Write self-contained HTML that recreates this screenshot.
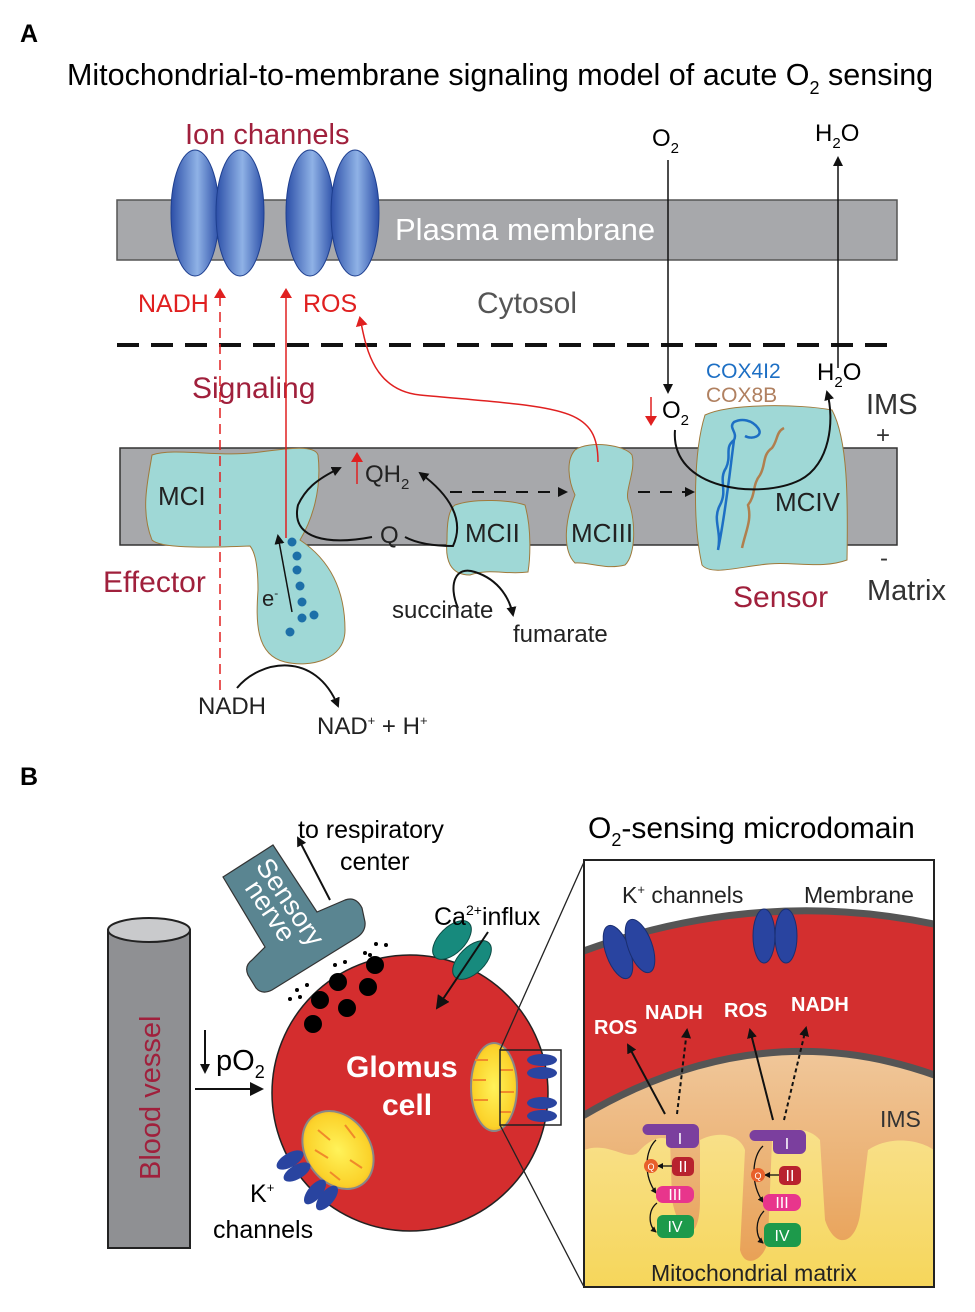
<!DOCTYPE html>
<html><head><meta charset="utf-8"><style>
html,body{margin:0;padding:0;background:#fff}
svg{display:block}
text{font-family:"Liberation Sans",Arial,sans-serif}
</style></head><body>
<svg width="975" height="1312" viewBox="0 0 975 1312" xmlns="http://www.w3.org/2000/svg">
<defs>
<linearGradient id="ch" x1="0" x2="1" y1="0" y2="0">
<stop offset="0" stop-color="#2c4fa8"/><stop offset="0.55" stop-color="#8fb2e6"/><stop offset="1" stop-color="#2c4fa8"/></linearGradient>
<radialGradient id="mito" cx="0.5" cy="0.5" r="0.6"><stop offset="0" stop-color="#fff35a"/><stop offset="0.75" stop-color="#fbd22a"/><stop offset="1" stop-color="#f59a23"/></radialGradient>
<linearGradient id="ims" x1="0" x2="0" y1="0" y2="1"><stop offset="0" stop-color="#f0c79a"/><stop offset="1" stop-color="#e79a4a"/></linearGradient>
<linearGradient id="mat" x1="0" x2="0" y1="0" y2="1"><stop offset="0" stop-color="#f8e08a"/><stop offset="1" stop-color="#f6d65a"/></linearGradient>
<marker id="ab" markerWidth="10" markerHeight="10" refX="8" refY="5" orient="auto" markerUnits="userSpaceOnUse"><path d="M0,0 L10,5 L0,10 z" fill="#111"/></marker>
<marker id="ar" markerWidth="10" markerHeight="12" refX="8" refY="6" orient="auto" markerUnits="userSpaceOnUse"><path d="M0,0 L10,6 L0,12 z" fill="#e02020"/></marker>
<marker id="abl" markerWidth="14" markerHeight="14" refX="12" refY="7" orient="auto" markerUnits="userSpaceOnUse"><path d="M0,0 L14,7 L0,14 z" fill="#111"/></marker>
<marker id="as" markerWidth="6" markerHeight="6" refX="5" refY="3" orient="auto" markerUnits="userSpaceOnUse"><path d="M0,0 L6,3 L0,6 z" fill="#111"/></marker>
</defs>

<!-- Panel A -->
<text x="20" y="42" font-size="25" font-weight="bold">A</text>
<text x="67" y="85" font-size="30.5">Mitochondrial-to-membrane signaling model of acute O<tspan font-size="18" dy="9">2</tspan><tspan dy="-9"> sensing</tspan></text>

<rect x="117" y="200" width="780" height="60" fill="#a7a8ab" stroke="#555" stroke-width="1.5"/>
<g stroke="#1e3f8f" stroke-width="1">
<ellipse cx="195" cy="213" rx="24" ry="63" fill="url(#ch)"/>
<ellipse cx="240" cy="213" rx="24" ry="63" fill="url(#ch)"/>
<ellipse cx="310" cy="213" rx="24" ry="63" fill="url(#ch)"/>
<ellipse cx="355" cy="213" rx="24" ry="63" fill="url(#ch)"/>
</g>
<text x="185" y="144" font-size="29" fill="#a0203c">Ion channels</text>
<text x="395" y="240" font-size="31" fill="#fff">Plasma membrane</text>
<text x="138" y="312" font-size="25" fill="#e02020">NADH</text>
<text x="303" y="312" font-size="25" fill="#e02020">ROS</text>
<text x="477" y="313" font-size="30" fill="#555">Cytosol</text>
<line x1="117" y1="345" x2="897" y2="345" stroke="#111" stroke-width="4" stroke-dasharray="22,12"/>

<text x="652" y="146" font-size="24">O<tspan font-size="15" dy="7">2</tspan></text>
<line x1="668" y1="160" x2="668" y2="392" stroke="#111" stroke-width="1.5" marker-end="url(#ab)"/>
<text x="815" y="141" font-size="24">H<tspan font-size="15" dy="7">2</tspan><tspan dy="-7">O</tspan></text>
<line x1="838" y1="368" x2="838" y2="158" stroke="#111" stroke-width="1.5" marker-end="url(#ab)"/>

<text x="192" y="398" font-size="30" fill="#a0203c">Signaling</text>

<rect x="120" y="448" width="777" height="97" fill="#a7a8ab" stroke="#333" stroke-width="1.5"/>

<path d="M152,455 C175,447 220,458 260,452 C290,448 315,445 318,455 C322,490 312,520 300,540 C330,560 345,590 345,630 C345,660 310,668 285,662 C255,655 256,620 258,590 C258,565 255,552 250,546 C200,548 160,548 152,540 C140,510 148,480 152,455 Z" fill="#9fd8d6" stroke="#a07a3c" stroke-width="1"/>
<path d="M455,505 C475,498 510,500 525,505 C532,530 530,560 528,572 C505,575 490,568 470,575 C450,575 445,560 447,540 C447,525 448,510 455,505 Z" fill="#9fd8d6" stroke="#a07a3c" stroke-width="1"/>
<path d="M575,450 C590,440 625,445 632,455 C636,470 625,490 628,500 C636,520 636,555 625,565 C605,570 590,562 575,563 C562,550 565,520 575,495 C568,480 566,460 575,450 Z" fill="#9fd8d6" stroke="#a07a3c" stroke-width="1"/>
<path d="M705,415 C730,403 800,404 832,410 C848,440 848,500 847,560 C820,570 790,560 760,565 C735,568 710,575 702,565 C692,520 694,450 705,415 Z" fill="#9fd8d6" stroke="#a07a3c" stroke-width="1"/>
<path d="M718,550 C722,530 712,520 720,505 C728,490 718,480 726,468 C732,455 724,448 734,440 C738,432 728,428 734,422 C742,418 752,420 758,428 C764,436 752,440 745,436 M734,440 C730,470 726,510 718,550" fill="none" stroke="#1d6fc4" stroke-width="2.5"/>
<path d="M742,548 C746,530 752,520 748,505 C756,495 752,485 760,475 C766,465 762,455 772,448 C778,440 776,432 784,428" fill="none" stroke="#b07f4e" stroke-width="2.5"/>

<text x="706" y="378" font-size="21" fill="#1d6fc4">COX4I2</text>
<text x="706" y="402" font-size="21" fill="#b08060">COX8B</text>
<text x="817" y="380" font-size="24">H<tspan font-size="15" dy="7">2</tspan><tspan dy="-7">O</tspan></text>
<text x="662" y="418" font-size="24">O<tspan font-size="15" dy="7">2</tspan></text>
<line x1="651" y1="397" x2="651" y2="424" stroke="#e02020" stroke-width="1.5" marker-end="url(#ar)"/>
<path d="M675,430 C670,490 760,500 800,480 C830,465 835,420 827,392" fill="none" stroke="#111" stroke-width="2" marker-end="url(#ab)"/>
<text x="866" y="414" font-size="29" fill="#333">IMS</text>
<text x="876" y="443" font-size="24" fill="#333">+</text>
<text x="880" y="566" font-size="24" fill="#333">-</text>
<text x="867" y="600" font-size="29" fill="#333">Matrix</text>
<text x="733" y="607" font-size="30" fill="#a0203c">Sensor</text>

<text x="158" y="505" font-size="26" fill="#222">MCI</text>
<text x="465" y="542" font-size="26" fill="#222">MCII</text>
<text x="571" y="542" font-size="26" fill="#222">MCIII</text>
<text x="775" y="511" font-size="26" fill="#222">MCIV</text>
<text x="103" y="592" font-size="30" fill="#a0203c">Effector</text>
<text x="262" y="606" font-size="22" fill="#222">e<tspan font-size="12" dy="-9">-</tspan></text>
<g fill="#1d6fa8"><circle cx="292" cy="542" r="4.5"/><circle cx="297" cy="556" r="4.5"/><circle cx="297" cy="570" r="4.5"/><circle cx="300" cy="586" r="4.5"/><circle cx="302" cy="602" r="4.5"/><circle cx="314" cy="615" r="4.5"/><circle cx="302" cy="618" r="4.5"/><circle cx="290" cy="632" r="4.5"/></g>
<line x1="292" y1="612" x2="278" y2="536" stroke="#111" stroke-width="1.5" marker-end="url(#ab)"/>

<line x1="220" y1="690" x2="220" y2="290" stroke="#e02020" stroke-width="1.5" stroke-dasharray="10,6" marker-end="url(#ar)"/>
<line x1="286" y1="538" x2="286" y2="290" stroke="#e02020" stroke-width="1.5" marker-end="url(#ar)"/>
<path d="M598,462 C598,405 560,408 420,395 C370,390 365,340 360,318" fill="none" stroke="#e02020" stroke-width="1.5" marker-end="url(#ar)"/>

<text x="365" y="482" font-size="24" fill="#222">QH<tspan font-size="15" dy="7">2</tspan></text>
<line x1="357" y1="484" x2="357" y2="454" stroke="#e02020" stroke-width="1.5" marker-end="url(#ar)"/>
<text x="380" y="543" font-size="24" fill="#222">Q</text>
<path d="M372,537 C330,545 290,540 298,505 C305,490 315,480 340,468" fill="none" stroke="#111" stroke-width="2" marker-end="url(#ab)"/>
<path d="M405,537 C420,545 440,546 453,546 C465,520 450,495 420,473" fill="none" stroke="#111" stroke-width="2" marker-end="url(#ab)"/>
<line x1="450" y1="492" x2="566" y2="492" stroke="#111" stroke-width="2" stroke-dasharray="12,10" marker-end="url(#ab)"/>
<line x1="638" y1="492" x2="693" y2="492" stroke="#111" stroke-width="2" stroke-dasharray="12,10" marker-end="url(#ab)"/>
<path d="M458,608 C448,585 455,565 475,572 C500,580 510,600 513,615" fill="none" stroke="#111" stroke-width="2" marker-end="url(#ab)"/>
<text x="392" y="618" font-size="24" fill="#222">succinate</text>
<text x="513" y="642" font-size="24" fill="#222">fumarate</text>
<path d="M237,688 C260,660 315,650 338,706" fill="none" stroke="#111" stroke-width="2" marker-end="url(#ab)"/>
<text x="198" y="714" font-size="24" fill="#222">NADH</text>
<text x="317" y="734" font-size="24" fill="#222">NAD<tspan font-size="13" dy="-9">+</tspan><tspan dy="9"> + H</tspan><tspan font-size="13" dy="-9">+</tspan></text>

<!-- Panel B -->
<text x="20" y="785" font-size="25" font-weight="bold">B</text>
<text x="588" y="838" font-size="30">O<tspan font-size="18" dy="8">2</tspan><tspan dy="-8">-sensing microdomain</tspan></text>

<path d="M108,930 L108,1248 L190,1248 L190,930 Z" fill="#8f9093" stroke="#222" stroke-width="2"/>
<ellipse cx="149" cy="930" rx="41" ry="12" fill="#c9cacc" stroke="#222" stroke-width="2"/>
<text transform="translate(160,1180) rotate(-90)" font-size="29" fill="#a0203c">Blood vessel</text>
<line x1="205" y1="1030" x2="205" y2="1072" stroke="#111" stroke-width="2" marker-end="url(#ab)"/>
<text x="216" y="1070" font-size="29">pO<tspan font-size="18" dy="8">2</tspan></text>
<line x1="195" y1="1089" x2="262" y2="1089" stroke="#111" stroke-width="2" marker-end="url(#abl)"/>

<circle cx="410" cy="1093" r="138" fill="#d42d2e" stroke="#222" stroke-width="1.5"/>
<g fill="#000"><circle cx="375" cy="965" r="9"/><circle cx="338" cy="982" r="9"/><circle cx="368" cy="987" r="9"/><circle cx="320" cy="1000" r="9"/><circle cx="347" cy="1008" r="9"/><circle cx="313" cy="1024" r="9"/>
<circle cx="376" cy="944" r="2"/><circle cx="386" cy="945" r="2"/><circle cx="365" cy="953" r="2"/><circle cx="345" cy="962" r="2"/><circle cx="335" cy="965" r="2"/><circle cx="307" cy="985" r="2"/><circle cx="297" cy="990" r="2"/><circle cx="300" cy="997" r="2"/><circle cx="290" cy="999" r="2"/><circle cx="370" cy="955" r="2"/></g>
<path d="M223,877 L273,845 L317,912 L345,900 Q356,896 362,908 L365,922 Q366,932 356,938 L272,990 Q262,995 256,988 L248,975 Q244,966 252,960 L265,947 Z" fill="#5a8591" stroke="#333" stroke-width="1.2"/>
<text transform="translate(255,866) rotate(56)" font-size="27" fill="#fff">Sensory</text>
<text transform="translate(244,888) rotate(56)" font-size="27" fill="#fff">nerve</text>
<line x1="330" y1="900" x2="298" y2="838" stroke="#111" stroke-width="2" marker-end="url(#ab)"/>
<text x="298" y="838" font-size="25">to respiratory</text>
<text x="340" y="870" font-size="25">center</text>
<g fill="#178a7d" stroke="#0c4b44" stroke-width="1"><ellipse cx="452" cy="940" rx="13" ry="24" transform="rotate(45 452 940)"/><ellipse cx="472" cy="960" rx="13" ry="24" transform="rotate(45 472 960)"/></g>
<text x="434" y="925" font-size="25">Ca<tspan font-size="14" dy="-10">2+</tspan><tspan dy="10">influx</tspan></text>
<line x1="488" y1="932" x2="437" y2="1008" stroke="#111" stroke-width="2" marker-end="url(#abl)"/>
<text x="346" y="1077" font-size="30" font-weight="bold" fill="#fff">Glomus</text>
<text x="382" y="1115" font-size="30" font-weight="bold" fill="#fff">cell</text>
<ellipse cx="494" cy="1087" rx="23" ry="44" fill="url(#mito)" stroke="#888" stroke-width="2"/>
<g stroke="#f08a2a" stroke-width="2"><line x1="475" y1="1060" x2="488" y2="1060"/><line x1="473" y1="1080" x2="486" y2="1080"/><line x1="474" y1="1100" x2="488" y2="1100"/><line x1="500" y1="1070" x2="513" y2="1070"/><line x1="500" y1="1092" x2="514" y2="1092"/><line x1="500" y1="1112" x2="511" y2="1112"/></g>
<ellipse cx="338" cy="1150" rx="32" ry="42" transform="rotate(-35 338 1150)" fill="url(#mito)" stroke="#888" stroke-width="2"/>
<g stroke="#f08a2a" stroke-width="2"><line x1="318" y1="1130" x2="330" y2="1140"/><line x1="315" y1="1150" x2="328" y2="1158"/><line x1="345" y1="1125" x2="355" y2="1138"/><line x1="350" y1="1160" x2="362" y2="1168"/><line x1="330" y1="1172" x2="340" y2="1180"/></g>
<g fill="#2944a0"><ellipse cx="542" cy="1060" rx="15" ry="6"/><ellipse cx="542" cy="1073" rx="15" ry="6"/><ellipse cx="542" cy="1103" rx="15" ry="6"/><ellipse cx="542" cy="1116" rx="15" ry="6"/>
<ellipse cx="290" cy="1160" rx="15" ry="7" transform="rotate(-30 290 1160)"/><ellipse cx="297" cy="1172" rx="15" ry="7" transform="rotate(-30 297 1172)"/><ellipse cx="315" cy="1192" rx="7" ry="15" transform="rotate(40 315 1192)"/><ellipse cx="327" cy="1198" rx="7" ry="15" transform="rotate(40 327 1198)"/></g>
<rect x="500" y="1050" width="61" height="75" fill="none" stroke="#222" stroke-width="1.5"/>
<text x="250" y="1202" font-size="25">K<tspan font-size="13" dy="-10">+</tspan></text>
<text x="213" y="1238" font-size="25">channels</text>
<line x1="500" y1="1050" x2="584" y2="862" stroke="#222" stroke-width="1.3"/>
<line x1="500" y1="1125" x2="584" y2="1287" stroke="#222" stroke-width="1.3"/>

<clipPath id="ic"><rect x="584" y="860" width="350" height="427"/></clipPath>
<g clip-path="url(#ic)">
<rect x="584" y="860" width="350" height="427" fill="#fff"/>
<path d="M560,960 Q760,880 960,930 L960,1300 L560,1300 Z" fill="#d32f2f" stroke="#555" stroke-width="7"/>
<path d="M560,1130 Q760,1000 960,1085 L960,1300 L560,1300 Z" fill="url(#ims)" stroke="#555" stroke-width="7"/>
<path d="M584,1150 C610,1140 630,1165 640,1150 C650,1140 660,1135 670,1140 L672,1200 C680,1240 700,1245 700,1200 L700,1140 C720,1130 740,1135 745,1150 L740,1250 C745,1270 765,1260 768,1240 L772,1140 C790,1125 810,1128 820,1140 L825,1220 C835,1250 855,1245 860,1215 L868,1150 C890,1135 920,1140 934,1150 L934,1290 L584,1290 Z" fill="url(#mat)"/>
</g>
<rect x="584" y="860" width="350" height="427" fill="none" stroke="#222" stroke-width="2"/>
<text x="622" y="903" font-size="23" fill="#222">K<tspan font-size="13" dy="-9">+</tspan><tspan dy="9"> channels</tspan></text>
<text x="804" y="903" font-size="23" fill="#222">Membrane</text>
<g fill="#2944a0" stroke="#1a2e70"><ellipse cx="618" cy="952" rx="12" ry="28" transform="rotate(-20 618 952)"/><ellipse cx="640" cy="946" rx="12" ry="28" transform="rotate(-20 640 946)"/><ellipse cx="764" cy="936" rx="11" ry="27"/><ellipse cx="786" cy="936" rx="11" ry="27"/></g>
<g font-size="20" font-weight="bold" fill="#fff"><text x="594" y="1034">ROS</text><text x="645" y="1019">NADH</text><text x="724" y="1017">ROS</text><text x="791" y="1011">NADH</text></g>
<g stroke="#111" stroke-width="2"><line x1="665" y1="1114" x2="628" y2="1045" marker-end="url(#ab)"/><line x1="677" y1="1114" x2="687" y2="1030" stroke-dasharray="4,3" marker-end="url(#ab)"/><line x1="773" y1="1120" x2="750" y2="1030" marker-end="url(#ab)"/><line x1="784" y1="1120" x2="806" y2="1028" stroke-dasharray="4,3" marker-end="url(#ab)"/></g>
<g fill="none" stroke="#111" stroke-width="1.3">
<path d="M656,1140 C645,1150 643,1175 656,1193" marker-end="url(#as)"/><path d="M657,1203 C648,1210 648,1225 656,1232" marker-end="url(#as)"/><line x1="672" y1="1166" x2="658" y2="1166" marker-end="url(#as)"/>
<path d="M763,1146 C752,1156 750,1183 763,1202" marker-end="url(#as)"/><path d="M764,1211 C755,1220 755,1236 763,1243" marker-end="url(#as)"/><line x1="779" y1="1175" x2="765" y2="1175" marker-end="url(#as)"/>
</g>
<g font-size="16" fill="#fff" text-anchor="middle">
<path d="M648,1124 h45 a6,6 0 0 1 6,6 v12 a6,6 0 0 1 -6,6 h-22 a5,5 0 0 1 -5,-5 v-8 h-18 a4,4 0 0 1 0,-11 z" fill="#7b3f9e"/><text x="680" y="1144">I</text>
<rect x="672" y="1157" width="22" height="19" rx="5" fill="#b8222e"/><text x="683" y="1172">II</text>
<circle cx="651" cy="1166" r="7" fill="#e8602a"/><text x="651" y="1170" font-size="9">Q</text>
<rect x="656" y="1186" width="38" height="17" rx="7" fill="#e8358c"/><text x="675" y="1200">III</text>
<rect x="657" y="1215" width="37" height="23" rx="6" fill="#1d9a4b"/><text x="675" y="1232">IV</text>
<path d="M755,1130 h45 a6,6 0 0 1 6,6 v12 a6,6 0 0 1 -6,6 h-22 a5,5 0 0 1 -5,-5 v-8 h-18 a4,4 0 0 1 0,-11 z" fill="#7b3f9e"/><text x="787" y="1149">I</text>
<rect x="779" y="1166" width="22" height="19" rx="5" fill="#b8222e"/><text x="790" y="1181">II</text>
<circle cx="758" cy="1175" r="7" fill="#e8602a"/><text x="758" y="1179" font-size="9">Q</text>
<rect x="763" y="1194" width="38" height="17" rx="7" fill="#e8358c"/><text x="782" y="1208">III</text>
<rect x="764" y="1223" width="37" height="24" rx="6" fill="#1d9a4b"/><text x="782" y="1241">IV</text>
</g>
<text x="651" y="1281" font-size="23" fill="#222">Mitochondrial matrix</text>
<text x="880" y="1127" font-size="23" fill="#333">IMS</text>
</svg>
</body></html>
